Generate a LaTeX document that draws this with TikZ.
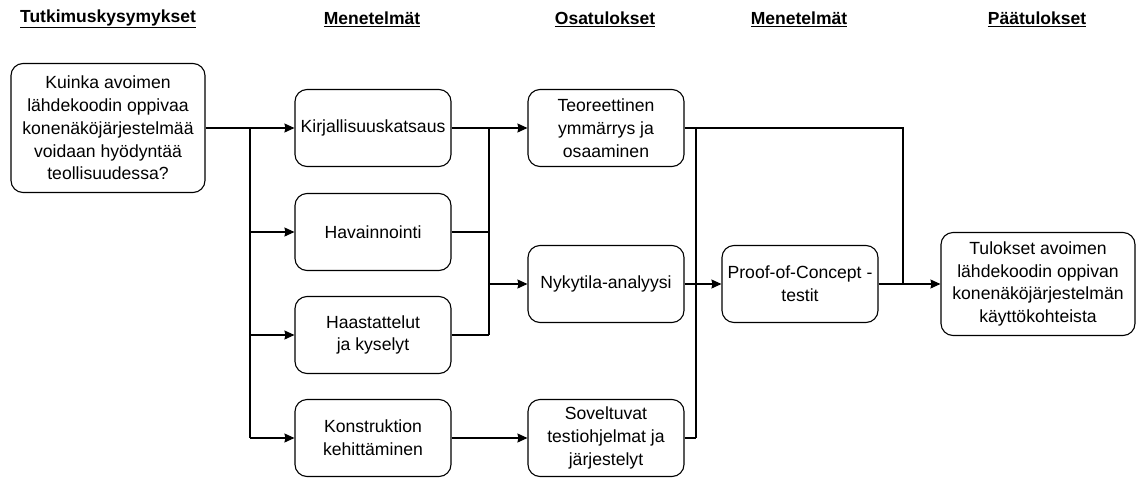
\documentclass[tikz,border=0pt]{standalone}
\usepackage{fontspec}
\setmainfont{Liberation Sans}
\usetikzlibrary{arrows.meta}

\begin{document}
\begin{tikzpicture}[x=1pt,y=-1pt,line width=1.1pt,
  box/.style={draw,rounded corners=12pt,minimum width=156pt,minimum height=77pt,align=center,font=\fontsize{17.6}{22.8}\selectfont},
  head/.style={font=\fontsize{17.5}{20}\selectfont\bfseries},
  arr/.style={-{Stealth[length=10pt,width=9pt,inset=1pt]}}]
\useasboundingbox (0,0) rectangle (1136,477);

% otsikot
\node[head] (h1) at (108,19) {\underline{Tutkimuskysymykset}};
\node[head] (h2) at (372,19) {\underline{Menetelmät}};
\node[head] (h3) at (605,19) {\underline{Osatulokset}};
\node[head] (h4) at (799,19) {\underline{Menetelmät}};
\node[head] (h5) at (1037,19) {\underline{Päätulokset}};

% laatikot
\node[box,minimum width=194pt,minimum height=129pt] (kys) at (108,128) {Kuinka avoimen\\lähdekoodin oppivaa\\konenäköjärjestelmää\\voidaan hyödyntää\\teollisuudessa?};
\node[box] (kir) at (373,128) {Kirjallisuuskatsaus};
\node[box] (hav) at (373,232) {Havainnointi};
\node[box] (haa) at (373,335) {Haastattelut\\ja kyselyt};
\node[box] (kon) at (373,438) {Konstruktion\\kehittäminen};
\node[box] (teo) at (606,128) {Teoreettinen\\ymmärrys ja\\osaaminen};
\node[box] (nyk) at (606,284) {Nykytila-analyysi};
\node[box] (sov) at (606,438) {Soveltuvat\\testiohjelmat ja\\järjestelyt};
\node[box] (poc) at (800,284) {Proof-of-Concept -\\testit};
\node[box,minimum width=194pt,minimum height=103pt] (tul) at (1038,284) {Tulokset avoimen\\lähdekoodin oppivan\\konenäköjärjestelmän\\käyttökohteista};

\coordinate (b1) at (250,128);
\coordinate (b2) at (489,128);
\coordinate (b3) at (696,128);
\coordinate (b4) at (903,284);

% yhteydet
\draw[arr] (kys) -- (kir);
\draw (b1) -- (b1 |- kon);
\draw[arr] (b1 |- hav) -- (hav);
\draw[arr] (b1 |- haa) -- (haa);
\draw[arr] (b1 |- kon) -- (kon);

\draw[arr] (kir) -- (teo);
\draw (b2) -- (b2 |- haa);
\draw (hav) -- (b2 |- hav);
\draw (haa) -- (b2 |- haa);
\draw[arr] (b2 |- nyk) -- (nyk);
\draw[arr] (kon) -- (sov);

\draw (teo) -| (b4);
\draw (b3) -- (b3 |- sov);
\draw (sov) -- (b3 |- sov);
\draw[arr] (nyk) -- (poc);
\draw[arr] (poc) -- (tul);
\end{tikzpicture}
\end{document}
